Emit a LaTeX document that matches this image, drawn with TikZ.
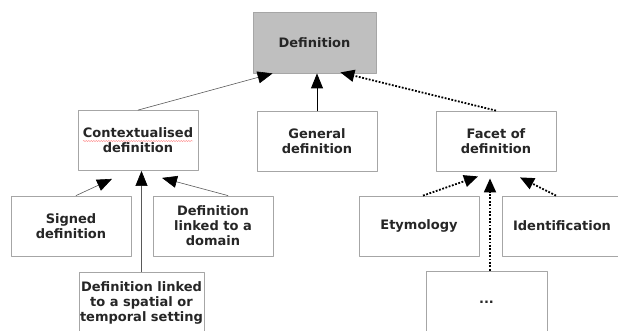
\documentclass[tikz,border=0pt]{standalone}
\usepackage{fontspec}
\setmainfont{DejaVu Sans}
\usetikzlibrary{arrows.meta,decorations.pathmorphing}

\begin{document}
\begin{tikzpicture}[line cap=round,line join=round,x=1pt,y=-1pt,
  box/.style={draw=black!35,line width=0.8pt,fill=white,minimum width=120pt,minimum height=60pt,
    align=center,inner sep=0pt,text=black!85,font=\fontsize{13}{15}\selectfont\bfseries},
  isa/.style={draw=black!65,line width=0.6pt,-{Triangle[length=15pt,width=12pt,black]}},
  facet/.style={line cap=butt,line width=1.8pt,dash pattern=on 1.8pt off 1.6pt,-{Triangle[length=14pt,width=12pt]}}]
\useasboundingbox (0,0) rectangle (618,330);
% top
\node[box,fill=black!25,minimum width=123pt,minimum height=61pt] (def) at (314.5,42.5) {Definition};
% second row
\node[box] (ctx) at (138,140.5) {Contextualised\\definition};
\node[box] (gen) at (317,141) {General\\definition};
\node[box] (fac) at (496,141) {Facet of\\definition};
% third row
\node[box] (sig) at (71,226) {Signed\\definition};
\node[box] (dom) at (213,226) {Definition\\linked to a\\domain};
\node[box] (ety) at (419,226) {Etymology};
\node[box] (ide) at (562,226) {Identification};
% bottom
\node[box,minimum width=125pt,minimum height=62pt] (spa) at (141.5,303) {Definition linked\\to a spatial or\\temporal setting};
\node[box,minimum width=121pt,minimum height=62pt] (dots) at (486.5,302) {...};
% spell check line
\draw[red!60,line width=0.35pt,decorate,decoration={snake,amplitude=0.5pt,segment length=2.5pt}]
  ([shift={(-55,0.5)}]ctx.center) -- ([shift={(55,0.5)}]ctx.center);
% links
\draw[isa] (ctx.north) -- ([xshift=20pt]def.south west);
\draw[line width=0.9pt,-{Triangle[length=15pt,width=12pt]}] (gen.north) -- (gen.north |- def.south);
\draw[facet] (fac.north) -- ([shift={(-36,-1)}]def.south east);
\draw[isa] ([xshift=5pt]sig.north) -- ([shift={(-26,8)}]ctx.south);
\draw[isa] (spa.north) -- (spa.north |- ctx.south);
\draw[isa] ([xshift=15pt]dom.north) -- ([shift={(24,7)}]ctx.south);
\draw[facet] ([xshift=4pt]ety.north) -- ([shift={(-18,5)}]fac.south);
\draw[facet] ([xshift=3.5pt]dots.north) -- ([shift={(-6,7)}]fac.south);
\draw[facet] ([xshift=-6pt]ide.north) -- ([shift={(24,6)}]fac.south);
\end{tikzpicture}
\end{document}
